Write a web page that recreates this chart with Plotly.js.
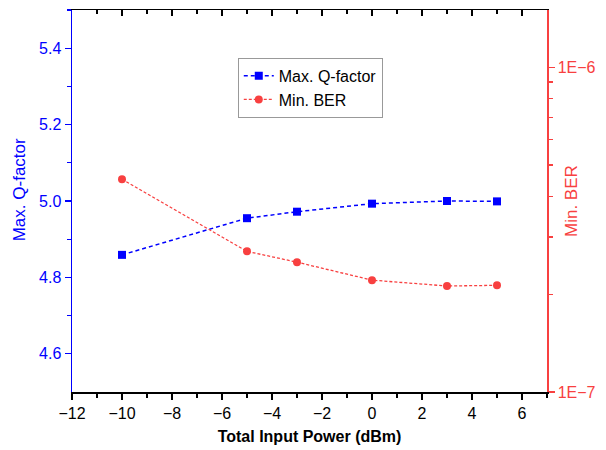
<!DOCTYPE html>
<html>
<head>
<meta charset="utf-8">
<script src="https://cdn.plot.ly/plotly-3.0.1.min.js"></script>
<style>html,body{margin:0;padding:0;background:#fff;}#chart{width:606px;height:450px;}</style>
</head>
<body>
<div id="chart"></div>
<script>
const power = [-10, -5, -3, 0, 3, 5];
const qFactor = [4.859, 4.955, 4.972, 4.993, 5.000, 4.999];
const minBER = [4.52e-7, 2.71e-7, 2.51e-7, 2.21e-7, 2.12e-7, 2.13e-7];
const xTicks = [-12, -10, -8, -6, -4, -2, 0, 2, 4, 6];
const qTickVals = [4.6, 4.8, 5.0, 5.2, 5.4];
const qTickText = ['4.6', '4.8', '5.0', '5.2', '5.4'];
const qMinorVals = [4.7, 4.9, 5.1, 5.3, 5.5];
const berTickVals = [1e-7, 1e-6];
const berTickText = ['1E\u22127', '1E\u22126'];
const berMinorVals = [2e-7, 3e-7, 4e-7, 5e-7, 6e-7, 7e-7, 8e-7, 9e-7];

const BLUE = '#0000ff';
const RED = '#f84040';
const FONT = 'Liberation Sans, Arial, sans-serif';

const traces = [
  {
    x: power, y: qFactor, name: 'Max. Q-factor', type: 'scatter', mode: 'lines+markers',
    line: {color: BLUE, width: 1.5, dash: '4px,3px'},
    marker: {symbol: 'square', size: 8, color: BLUE},
    xaxis: 'x', yaxis: 'y'
  },
  {
    x: power, y: minBER, name: 'Min. BER', type: 'scatter', mode: 'lines+markers',
    line: {color: RED, width: 1.3, dash: '3px,2px'},
    marker: {symbol: 'circle', size: 8, color: RED},
    xaxis: 'x', yaxis: 'y2'
  },
  {
    x: [0], y: [5], xaxis: 'x2', yaxis: 'y', mode: 'markers',
    marker: {opacity: 0}, showlegend: false, hoverinfo: 'skip'
  }
];

const layout = {
  width: 606, height: 450,
  margin: {l: 72, r: 59, t: 10, b: 58},
  paper_bgcolor: '#fff', plot_bgcolor: '#fff',
  font: {family: FONT, size: 16, color: '#000'},
  showlegend: true,
  legend: {
    x: 0.349, y: 0.875, xanchor: 'left', yanchor: 'top',
    bordercolor: '#999', borderwidth: 1, bgcolor: '#fff',
    font: {family: FONT, size: 16, color: '#000'},
    tracegroupgap: 0
  },
  xaxis: {
    range: [-12, 7], tickvals: xTicks, showgrid: false, zeroline: false,
    showline: true, linecolor: '#000', linewidth: 1.5,
    ticks: 'outside', ticklen: 6, tickwidth: 1.2, tickcolor: '#000',
    minor: {dtick: 1, tick0: -12, ticks: 'outside', ticklen: 4, tickwidth: 1.2, tickcolor: '#000', showgrid: false},
    tickfont: {family: FONT, size: 16, color: '#000'},
    title: {text: '<b>Total Input Power (dBm)</b>', font: {family: FONT, size: 16, color: '#000'}, standoff: 10}
  },
  xaxis2: {
    range: [-12, 7], overlaying: 'x', side: 'top', anchor: 'y',
    tickvals: xTicks, showticklabels: false, showgrid: false, zeroline: false,
    showline: true, linecolor: '#000', linewidth: 1.5,
    ticks: 'inside', ticklen: 6, tickwidth: 1.2, tickcolor: '#000',
    minor: {dtick: 1, tick0: -12, ticks: 'inside', ticklen: 4, tickwidth: 1.2, tickcolor: '#000', showgrid: false}
  },
  yaxis: {
    range: [4.5, 5.5], tickvals: qTickVals, ticktext: qTickText,
    showgrid: false, zeroline: false,
    showline: true, linecolor: BLUE, linewidth: 1.5,
    ticks: 'outside', ticklen: 6, tickwidth: 1.2, tickcolor: BLUE,
    minor: {tickvals: qMinorVals, ticks: 'outside', ticklen: 4, tickwidth: 1.2, tickcolor: BLUE, showgrid: false},
    tickfont: {family: FONT, size: 16, color: BLUE}
  },
  yaxis2: {
    type: 'log', range: [-7, Math.log10(1.5e-6)], overlaying: 'y', side: 'right', anchor: 'x',
    tickvals: berTickVals, ticktext: berTickText,
    showgrid: false, zeroline: false,
    showline: true, linecolor: RED, linewidth: 1.5,
    ticks: 'outside', ticklen: 6, tickwidth: 1.2, tickcolor: RED,
    minor: {tickvals: berMinorVals, ticks: 'outside', ticklen: 4, tickwidth: 1.2, tickcolor: RED, showgrid: false},
    tickfont: {family: FONT, size: 16, color: RED}
  },
  annotations: [
    {text: 'Max. Q-factor', xref: 'paper', yref: 'paper', x: -0.11, y: 0.53,
     xanchor: 'center', yanchor: 'middle', textangle: -90, showarrow: false,
     font: {family: FONT, size: 17, color: BLUE}},
    {text: 'Min. BER', xref: 'paper', yref: 'paper', x: 1.0505, y: 0.5,
     xanchor: 'center', yanchor: 'middle', textangle: -90, showarrow: false,
     font: {family: FONT, size: 17, color: RED}}
  ]
};

Plotly.newPlot('chart', traces, layout, {displayModeBar: false, staticPlot: true});
</script>
</body>
</html>
